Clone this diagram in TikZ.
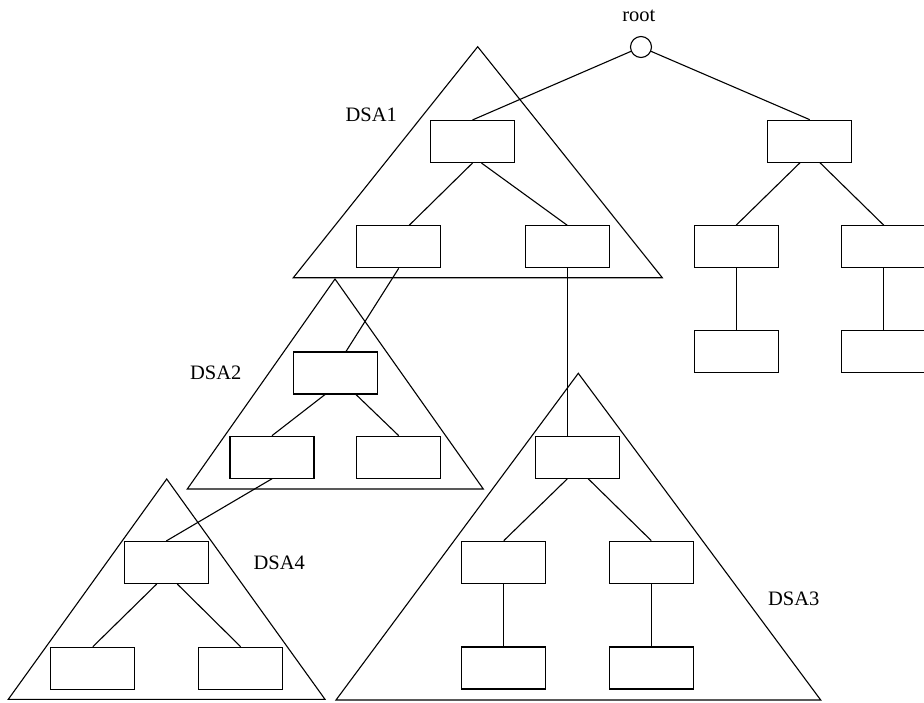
\documentclass[tikz,border=0pt]{standalone}
\usepackage{fontspec}
\setmainfont{Liberation Serif}
\begin{document}
\begin{tikzpicture}[x=1pt,y=-1pt,
  line width=1.1pt,
  rec/.style={draw,fill=white,rectangle,minimum width=84pt,minimum height=42pt,inner sep=0pt},
  rootnode/.style={draw,fill=white,circle,minimum size=21pt,inner sep=0pt},
  region/.style={draw,line join=miter},
  lbl/.style={anchor=base,inner sep=0pt,font=\fontsize{20.5}{24}\selectfont},
  edge/.style={draw}]
\useasboundingbox (0,0) rectangle (924,702);

% subtree regions
\path[region] (477.7,46.7) -- (293.3,277.7) -- (662.3,277.7) -- cycle;
\path[region] (335,279) -- (187.3,489) -- (483.3,489) -- cycle;
\path[region] (166.7,479) -- (8.3,699.3) -- (325,699.3) -- cycle;
\path[region] (578.3,373.3) -- (336,700) -- (820.7,700) -- cycle;

% region labels
\node[lbl] (l1) at (371.2,121.7) {DSA1};
\node[lbl] (l2) at (215.8,379) {DSA2};
\node[lbl] (l4) at (279.2,569.3) {DSA4};
\node[lbl] (l3) at (793.8,605) {DSA3};
\node[lbl] (lr) at (638.8,21.7) {root};

% tree nodes
\node[rootnode] (root) at (641,47) {};
\node[rec] (A) at (472.5,141.5) {};
\node[rec] (B) at (398.7,246.8) {};
\node[rec] (C) at (567.2,246.8) {};
\node[rec] (R) at (809.7,141.2) {};
\node[rec] (D) at (736.2,246.7) {};
\node[rec] (E) at (883.7,246.7) {};
\node[rec] (F) at (736.2,351.7) {};
\node[rec] (G) at (883.7,351.7) {};
\node[rec] (H) at (335.5,373) {};
\node[rec] (I) at (272,457.2) {};
\node[rec] (J) at (398.7,457.2) {};
\node[rec] (K) at (166.3,562.5) {};
\node[rec] (L) at (92.8,668.3) {};
\node[rec] (M) at (240.7,668.3) {};
\node[rec] (N) at (577.8,457.3) {};
\node[rec] (O) at (503.8,562.2) {};
\node[rec] (P) at (651.3,562.2) {};
\node[rec] (Q) at (503.8,668) {};
\node[rec] (S) at (651.3,668) {};

% connectors
\draw[edge] (root) -- (A.north);
\draw[edge] (root) -- (R.north);
\draw[edge] (A.south) -- ([xshift=10.5pt]B.north);
\draw[edge] ([xshift=9pt]A.south) -- (C.north);
\draw[edge] ([xshift=-9.7pt]R.south) -- (D.north);
\draw[edge] ([xshift=10.3pt]R.south) -- (E.north);
\draw[edge] (D.south) -- (F.north);
\draw[edge] (E.south) -- (G.north);
\draw[edge] (B.south) -- ([xshift=10.5pt]H.north);
\draw[edge] ([xshift=-10.5pt]H.south) -- (I.north);
\draw[edge] ([xshift=20.5pt]H.south) -- (J.north);
\draw[edge] (I.south) -- (K.north);
\draw[edge] ([xshift=-9.6pt]K.south) -- (L.north);
\draw[edge] ([xshift=11pt]K.south) -- (M.north);
\draw[edge] (C.south) -- (C.south |- N.north);
\draw[edge] ([xshift=-10.5pt]N.south) -- (O.north);
\draw[edge] ([xshift=10.5pt]N.south) -- (P.north);
\draw[edge] (O.south) -- (Q.north);
\draw[edge] (P.south) -- (S.north);
\end{tikzpicture}
\end{document}
